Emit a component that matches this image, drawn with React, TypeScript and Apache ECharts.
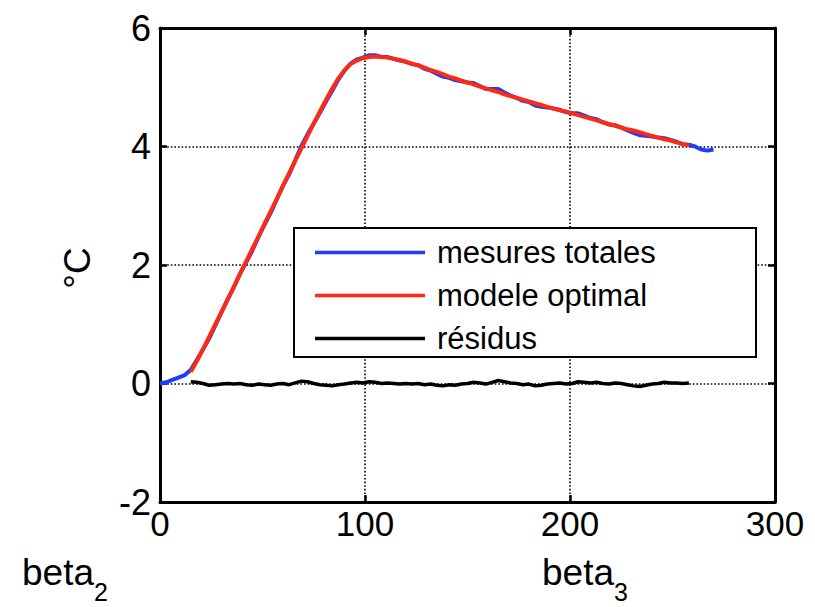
import React, { useEffect, useRef } from "react";
import * as echarts from "echarts";

// ---- data ----
const X_STEP = 3;
const measuredStart = 0;
const measured = [
  0.0, 0.02, 0.06, 0.1, 0.14, 0.23, 0.4, 0.58, 0.76, 0.98,
  1.2, 1.42, 1.62, 1.85, 2.04, 2.24, 2.47, 2.68, 2.88, 3.11,
  3.34, 3.53, 3.77, 4.01, 4.21, 4.39, 4.57, 4.76, 4.94, 5.13,
  5.28, 5.4, 5.47, 5.5, 5.54, 5.54, 5.51, 5.51, 5.48, 5.45,
  5.43, 5.39, 5.37, 5.31, 5.28, 5.23, 5.18, 5.16, 5.12, 5.1,
  5.08, 5.07, 5.02, 4.97, 4.97, 4.97, 4.91, 4.86, 4.82, 4.77,
  4.75, 4.69, 4.67, 4.66, 4.64, 4.62, 4.58, 4.56, 4.56, 4.52,
  4.48, 4.46, 4.41, 4.37, 4.36, 4.32, 4.27, 4.23, 4.19, 4.18,
  4.17, 4.15, 4.14, 4.11, 4.08, 4.04, 4.03, 4.0, 3.95, 3.93,
  3.95,
];
const modelStart = 15;
const model = [
  0.2, 0.38, 0.58, 0.79, 1.0, 1.21, 1.42, 1.63, 1.85, 2.06,
  2.27, 2.48, 2.7, 2.91, 3.12, 3.34, 3.55, 3.76, 3.97, 4.18,
  4.39, 4.59, 4.79, 4.98, 5.15, 5.29, 5.39, 5.45, 5.49, 5.51,
  5.52, 5.51, 5.5, 5.48, 5.46, 5.43, 5.4, 5.37, 5.33, 5.29,
  5.26, 5.22, 5.18, 5.15, 5.11, 5.08, 5.05, 5.01, 4.98, 4.95,
  4.92, 4.88, 4.85, 4.82, 4.79, 4.76, 4.73, 4.7, 4.67, 4.64,
  4.61, 4.59, 4.56, 4.53, 4.5, 4.47, 4.44, 4.41, 4.38, 4.35,
  4.32, 4.29, 4.27, 4.24, 4.21, 4.18, 4.15, 4.12, 4.1, 4.07,
  4.04, 4.02,
];
const residualStart = 15;
const residuals = [
  0.03, 0.02, 0.0, -0.03, -0.02, -0.01, 0.0, -0.01, 0.0, -0.02,
  -0.03, -0.01, -0.02, -0.03, -0.01, 0.0, -0.02, 0.01, 0.04, 0.03,
  0.0, -0.02, -0.03, -0.04, -0.02, -0.01, 0.01, 0.02, 0.01, 0.03,
  0.02, 0.0, 0.01, 0.0, -0.01, 0.0, -0.01, 0.0, -0.02, -0.01,
  -0.03, -0.04, -0.02, -0.03, -0.01, 0.0, 0.02, 0.01, -0.01, 0.02,
  0.05, 0.03, 0.01, 0.0, -0.02, -0.01, -0.04, -0.03, -0.01, 0.0,
  0.01, -0.01, 0.0, 0.03, 0.02, 0.01, 0.02, 0.0, -0.01, 0.01,
  0.0, -0.02, -0.04, -0.05, -0.03, -0.01, 0.0, 0.02, 0.01, 0.01,
  0.0, 0.01,
];
const seriesNames = ["mesures totales", "modele optimal", "résidus"];
const seriesColors = ["#1f3bff", "#ff2a10", "#000000"];
const xRange = { min: 0, max: 300, interval: 100 };
const yRange = { min: -2, max: 6, interval: 2 };
const yAxisTitle = "°C";
const bottomLabels = [
  { base: "beta", sub: "2" },
  { base: "beta", sub: "3" },
];

const FONT = "'Liberation Sans', Arial, Helvetica, sans-serif";

const toPairs = (start: number, vals: number[]) =>
  vals.map((v, i) => [start + i * X_STEP, v]);

export default function App() {
  const ref = useRef<HTMLDivElement>(null);

  useEffect(() => {
    if (!ref.current) return;
    const chart = echarts.init(ref.current, undefined, { renderer: "svg" });

    const dotted = { color: "#000", width: 1.6, type: [1.6, 2] as any };
    const frameLine = { show: true, onZero: false, lineStyle: { color: "#000", width: 3 } };
    const tick = { show: true, inside: true, length: 7, lineStyle: { color: "#000", width: 2.5 } };

    chart.setOption({
      animation: false,
      backgroundColor: "#fff",
      grid: { left: 160, right: 40, top: 28, bottom: 105, containLabel: false },
      xAxis: [
        {
          type: "value",
          ...xRange,
          axisLine: frameLine,
          axisTick: tick,
          splitLine: { show: true, lineStyle: dotted },
          axisLabel: { color: "#000", fontSize: 35, fontFamily: FONT, margin: 4 },
        },
        {
          type: "value",
          position: "top",
          ...xRange,
          axisLine: frameLine,
          axisTick: tick,
          splitLine: { show: false },
          axisLabel: { show: false },
        },
      ],
      yAxis: [
        {
          type: "value",
          ...yRange,
          axisLine: frameLine,
          axisTick: tick,
          splitLine: { show: true, lineStyle: dotted },
          axisLabel: {
            color: "#000",
            fontSize: 36,
            fontFamily: FONT,
            margin: 9,
            padding: [0, 0, 12, 0],
          },
        },
        {
          type: "value",
          position: "right",
          ...yRange,
          axisLine: frameLine,
          axisTick: tick,
          splitLine: { show: false },
          axisLabel: { show: false },
        },
      ],
      legend: {
        show: true,
        orient: "vertical",
        left: 294,
        top: 228,
        padding: [9, 10, 7, 21],
        itemWidth: 110,
        itemHeight: 3.5,
        itemGap: 12,
        icon: "rect",
        z: 20,
        data: seriesNames,
        textStyle: {
          color: "#000",
          fontSize: 31,
          lineHeight: 30,
          fontFamily: FONT,
          padding: [0, 0, 0, 7],
        },
      },
      graphic: [
        {
          type: "rect",
          z: 10,
          shape: { x: 294, y: 228, width: 462, height: 129 },
          style: { fill: "#fff", stroke: "#000", lineWidth: 2 },
        },
        {
          type: "text",
          x: 77,
          y: 268,
          rotation: Math.PI / 2,
          style: {
            text: yAxisTitle,
            fontSize: 37,
            fontFamily: FONT,
            fill: "#000",
            align: "center",
            verticalAlign: "middle",
          },
        },
        {
          type: "text",
          x: 22,
          y: 572,
          style: { text: bottomLabels[0].base, fontSize: 37, fontFamily: FONT, fill: "#000", align: "left", verticalAlign: "middle" },
        },
        {
          type: "text",
          x: 94,
          y: 592,
          style: { text: bottomLabels[0].sub, fontSize: 25, fontFamily: FONT, fill: "#000", align: "left", verticalAlign: "middle" },
        },
        {
          type: "text",
          x: 542,
          y: 572,
          style: { text: bottomLabels[1].base, fontSize: 37, fontFamily: FONT, fill: "#000", align: "left", verticalAlign: "middle" },
        },
        {
          type: "text",
          x: 614,
          y: 592,
          style: { text: bottomLabels[1].sub, fontSize: 25, fontFamily: FONT, fill: "#000", align: "left", verticalAlign: "middle" },
        },
      ],
      series: [
        {
          name: seriesNames[2],
          type: "line",
          data: toPairs(residualStart, residuals),
          showSymbol: false,
          color: seriesColors[2],
          lineStyle: { width: 3.5, color: seriesColors[2] },
          z: 3,
        },
        {
          name: seriesNames[0],
          type: "line",
          data: toPairs(measuredStart, measured),
          showSymbol: false,
          color: seriesColors[0],
          lineStyle: { width: 4, color: seriesColors[0] },
          z: 4,
        },
        {
          name: seriesNames[1],
          type: "line",
          data: toPairs(modelStart, model),
          showSymbol: false,
          color: seriesColors[1],
          lineStyle: { width: 4, color: seriesColors[1] },
          z: 5,
        },
      ],
    });

    return () => chart.dispose();
  }, []);

  return (
    <div
      ref={ref}
      style={{ position: "fixed", left: 0, top: 0, width: 815, height: 607, background: "#fff" }}
    />
  );
}
